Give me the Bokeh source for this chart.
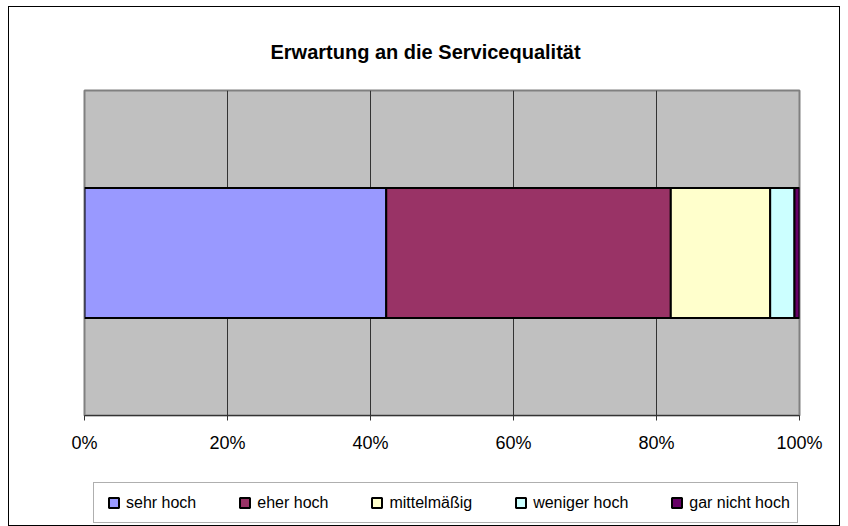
from bokeh.plotting import figure
from bokeh.layouts import column
from bokeh.models import ColumnDataSource, FactorRange, Range1d, NumeralTickFormatter, FixedTicker, Legend
from bokeh.embed import file_html
from bokeh.resources import INLINE

# ---- data ----
row_label = ["Erwartung"]
categories = ["sehr hoch", "eher hoch", "mittelmäßig", "weniger hoch", "gar nicht hoch"]
values_pct = [42.2, 39.8, 13.9, 3.4, 0.7]
tick_values = [0.0, 0.2, 0.4, 0.6, 0.8, 1.0]

colors = ["#9999FF", "#993366", "#FFFFCC", "#CCFFFF", "#660066"]

keys = ["s%d" % i for i in range(len(categories))]
data = {"row": row_label}
for k, v in zip(keys, values_pct):
    data[k] = [v / 100.0]
source = ColumnDataSource(data)

FONT = "Liberation Sans"

p = figure(width=830, height=470, output_backend="svg", toolbar_location=None,
           x_range=Range1d(0, 1), y_range=FactorRange(factors=row_label),
           min_border_left=75, min_border_right=40, min_border_top=83,
           min_border_bottom=62)

p.background_fill_color = "#C0C0C0"
p.border_fill_color = "white"
p.outline_line_color = "#808080"
p.outline_line_width = 2

p.hbar_stack(keys, y="row", height=0.4, source=source, color=colors,
             line_color="black", line_width=2)

p.title.text = "Erwartung an die Servicequalität"
p.title.align = "left"
p.title.offset = 186
p.title.text_font = FONT
p.title.text_font_style = "bold"
p.title.text_font_size = "20px"
p.title.text_color = "black"
p.title.standoff = 56

p.yaxis.visible = False
p.ygrid.grid_line_color = None

p.xaxis.ticker = FixedTicker(ticks=tick_values)
p.xaxis.formatter = NumeralTickFormatter(format="0%")
p.xaxis.axis_line_color = "#333333"
p.xaxis.axis_line_width = 1
p.xaxis.major_tick_line_color = "#333333"
p.xaxis.major_tick_out = 5
p.xaxis.major_tick_in = 0
p.xaxis.minor_tick_line_color = None
p.xaxis.major_label_text_font = FONT
p.xaxis.major_label_text_font_size = "18px"
p.xaxis.major_label_text_color = "black"
p.xaxis.major_label_standoff = 12

p.xgrid.ticker = FixedTicker(ticks=tick_values)
p.xgrid.grid_line_color = "#333333"
p.xgrid.grid_line_width = 1

# ---- legend strip (series markers kept outside its visible range) ----
lf = figure(width=830, height=48, output_backend="svg", toolbar_location=None,
            x_range=Range1d(10, 11), y_range=FactorRange(factors=row_label),
            min_border_left=75, min_border_right=40, min_border_top=0,
            min_border_bottom=0)
lf.axis.visible = False
lf.grid.grid_line_color = None
lf.outline_line_color = None
lf.background_fill_color = "white"
lf_renderers = []
for k, c in zip(keys, colors):
    r = lf.scatter(x=k, y="row", source=source, marker="square", size=10,
                   fill_color=c, line_color="black", line_width=2)
    lf_renderers.append(r)

legend = Legend(items=[(c, [r]) for c, r in zip(categories, lf_renderers)],
                orientation="horizontal", location=(9, 2))
legend.label_text_font = FONT
legend.label_text_font_size = "16px"
legend.label_text_color = "black"
legend.glyph_width = 25
legend.glyph_height = 25
legend.label_standoff = 0
legend.spacing = 36
legend.padding = 7
legend.margin = 0
legend.border_line_color = "#606060"
legend.border_line_width = 1
legend.background_fill_color = "white"
lf.add_layout(legend)

layout = column(p, lf, spacing=0,
                styles={"border": "1px solid #000000", "margin-left": "8px", "margin-top": "6px"})

open("out.html", "w").write(file_html(layout, INLINE))
